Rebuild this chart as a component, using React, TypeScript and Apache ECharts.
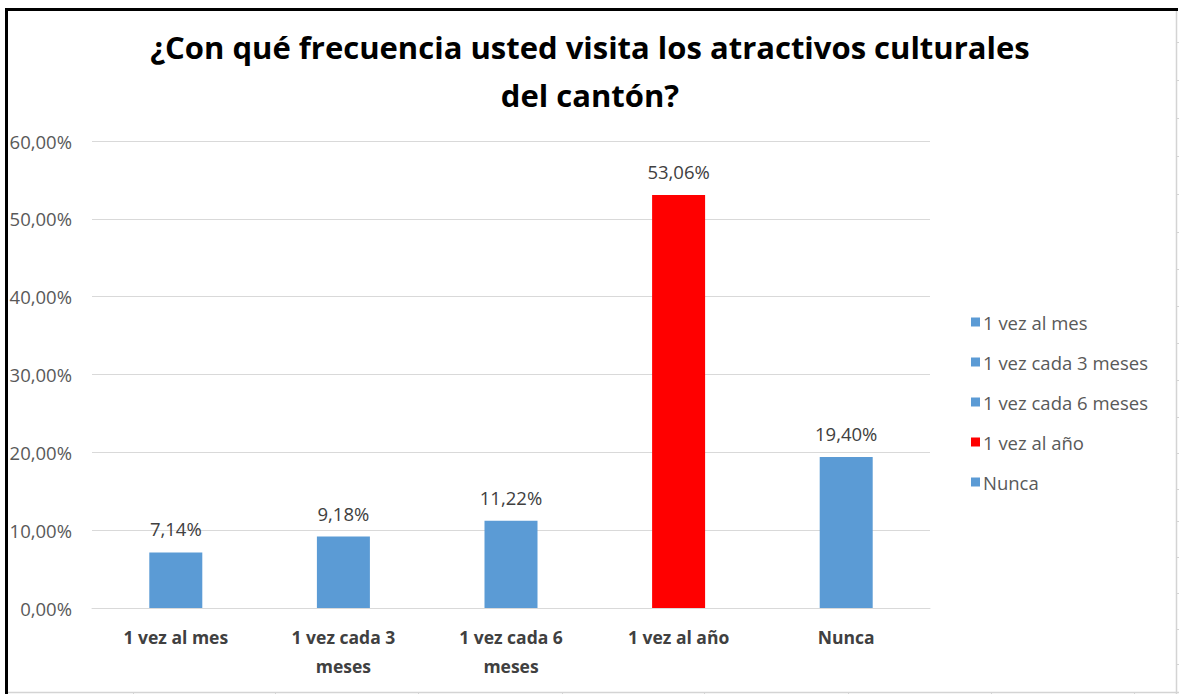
import React, { useEffect, useRef } from "react";
import * as echarts from "echarts";

const categories = ["1 vez al mes", "1 vez cada 3 meses", "1 vez cada 6 meses", "1 vez al año", "Nunca"];
const axisLabels = ["1 vez al mes", "1 vez cada 3\nmeses", "1 vez cada 6\nmeses", "1 vez al año", "Nunca"];
const values = [7.14, 9.18, 11.22, 53.06, 19.4];
const colors = ["#5B9BD5", "#5B9BD5", "#5B9BD5", "#FF0000", "#5B9BD5"];
const titleText = "¿Con qué frecuencia usted visita los atractivos culturales\ndel cantón?";
const rowLines = [42, 80, 118, 156, 194, 232, 269, 306, 343, 380, 417, 453, 489, 521, 557, 593, 629, 664];
const colLines = [133, 275, 418, 562, 704, 848, 991, 1134];

const fmt = (v: number) => v.toFixed(2).replace(".", ",") + "%";
const FONT = "'Open Sans', sans-serif";

export default function App() {
  const ref = useRef<HTMLDivElement>(null);
  useEffect(() => {
    if (!ref.current) return;
    const chart = echarts.init(ref.current, null, { renderer: "svg" });
    const series = categories.map((name, i) => ({
      name,
      type: "bar",
      stack: "total",
      barWidth: 53,
      itemStyle: { color: colors[i] },
      label: {
        show: true,
        position: "top",
        distance: 14,
        fontSize: 18.5,
        color: "#404040",
        fontFamily: FONT,
        formatter: (p: any) => fmt(p.value),
      },
      data: values.map((v, j) => (j === i ? v : "-")),
    }));
    const graphics: any[] = [
      { type: "line", shape: { x1: 1176.5, y1: 10, x2: 1176.5, y2: 694 }, style: { stroke: "#d4d4d4", lineWidth: 1.5 } },
      { type: "line", shape: { x1: 8, y1: 692.5, x2: 1179, y2: 692.5 }, style: { stroke: "#d4d4d4", lineWidth: 1.5 } },
      ...rowLines.map((y) => ({ type: "line", shape: { x1: 1176, y1: y + 0.5, x2: 1179, y2: y + 0.5 }, style: { stroke: "#d4d4d4", lineWidth: 1 } })),
      ...colLines.map((x) => ({ type: "line", shape: { x1: x + 0.5, y1: 692, x2: x + 0.5, y2: 694 }, style: { stroke: "#d4d4d4", lineWidth: 1 } })),
      { type: "line", shape: { x1: 6.5, y1: 8, x2: 6.5, y2: 694 }, style: { stroke: "#000", lineWidth: 3 } },
      { type: "line", shape: { x1: 5, y1: 9.5, x2: 1178, y2: 9.5 }, style: { stroke: "#000", lineWidth: 3 } },
    ];
    chart.setOption({
      animation: false,
      backgroundColor: "#fff",
      title: {
        text: titleText,
        left: 585,
        textAlign: "center",
        top: 18,
        textStyle: { fontSize: 31, fontWeight: "bold", color: "#000", fontFamily: FONT, lineHeight: 48 },
      },
      legend: {
        orient: "vertical",
        left: 966,
        top: 306,
        icon: "rect",
        itemWidth: 9,
        itemHeight: 9,
        itemGap: 18,
        data: categories,
        textStyle: { fontSize: 18.5, color: "#595959", fontFamily: FONT, lineHeight: 22, padding: [0, 0, 0, -2] },
      },
      grid: { left: 92, right: 249, top: 141, bottom: 86 },
      xAxis: {
        type: "category",
        data: axisLabels,
        axisLine: { lineStyle: { color: "#d9d9d9" } },
        axisTick: { show: false },
        axisLabel: { fontSize: 17.5, fontWeight: "bold", color: "#404040", fontFamily: FONT, margin: 14, lineHeight: 29, interval: 0 },
      },
      yAxis: {
        type: "value",
        min: 0,
        max: 60,
        interval: 10,
        axisLine: { show: false },
        axisTick: { show: false },
        splitLine: { lineStyle: { color: "#d9d9d9" } },
        axisLabel: { fontSize: 18.5, color: "#595959", fontFamily: FONT, margin: 20, formatter: (v: number) => fmt(v) },
      },
      series,
      graphic: graphics,
    });
    return () => chart.dispose();
  }, []);
  return <div ref={ref} style={{ position: "absolute", left: 0, top: 0, width: 1179, height: 694 }} />;
}
